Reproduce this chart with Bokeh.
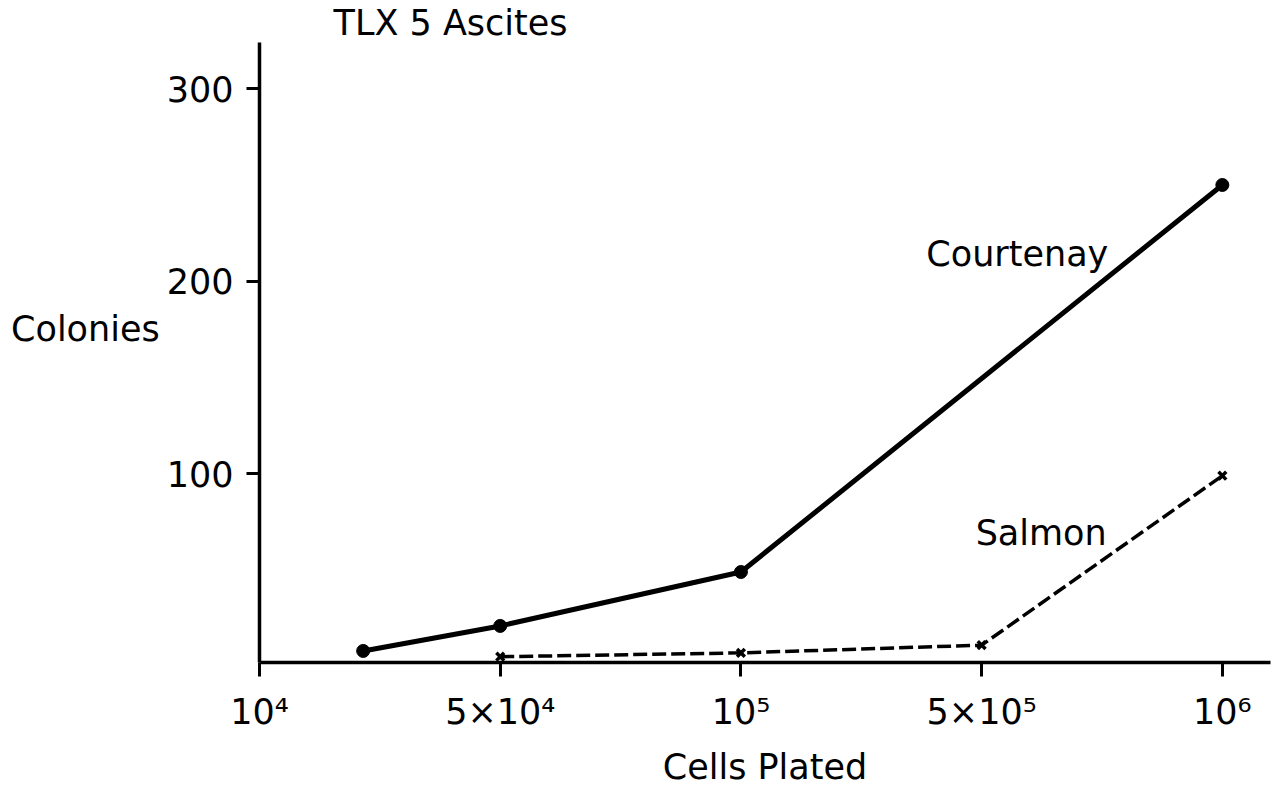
import numpy as np
from bokeh.plotting import figure
from bokeh.models import Range1d, FixedTicker, Label, ColumnDataSource
from bokeh.embed import file_html
from bokeh.resources import INLINE

# Tick values on the cells-plated axis and their labels
tick_cells = [1e4, 5e4, 1e5, 5e5, 1e6]
tick_labels = ["10⁴", "5×10⁴", "10⁵", "5×10⁵", "10⁶"]

# Colony counts for the two assay methods
courtenay_cells = [2e4, 5e4, 1e5, 1e6]
courtenay_colonies = [8, 21, 49, 250]

salmon_cells = [5e4, 1e5, 5e5, 1e6]
salmon_colonies = [5, 7, 11, 99]

y_ticks = [100, 200, 300]

FONT = "DejaVu Sans"


def axis_pos(cells):
    # each tick sits an equal distance apart; the scale is logarithmic between ticks
    return np.interp(np.log10(cells), np.log10(tick_cells), np.arange(len(tick_cells)))


court = ColumnDataSource(dict(x=axis_pos(courtenay_cells), y=courtenay_colonies))
salm = ColumnDataSource(dict(x=axis_pos(salmon_cells), y=salmon_colonies))

p = figure(width=1276, height=789, output_backend="svg", toolbar_location=None,
           x_range=Range1d(0, 4.2), y_range=Range1d(2, 324),
           min_border_left=259, min_border_right=6, min_border_top=42, min_border_bottom=126,
           title="TLX 5 Ascites")
p.outline_line_color = None
p.xgrid.visible = False
p.ygrid.visible = False
p.background_fill_color = "white"
p.border_fill_color = "white"

p.title.text_font = FONT
p.title.text_font_size = "35px"
p.title.text_font_style = "normal"
p.title.text_color = "black"
p.title.align = "left"
p.title.offset = 74
p.title.standoff = 0

# Courtenay: solid line with filled dots
p.line("x", "y", source=court, line_color="black", line_width=5)
p.scatter("x", "y", source=court, marker="circle", size=13, fill_color="black", line_color="black")

# Salmon: dashed line with small crosses
p.line("x", "y", source=salm, line_color="black", line_width=3.5, line_dash="14 5")
p.scatter("x", "y", source=salm, marker="x", size=11, line_color="black", line_width=3.5)

# axes
for ax in (p.xaxis[0], p.yaxis[0]):
    ax.axis_line_width = 3.5
    ax.axis_line_color = "black"
    ax.major_tick_line_width = 3
    ax.major_tick_line_color = "black"
    ax.major_tick_in = 0
    ax.minor_tick_line_color = None
    ax.major_label_text_font = FONT
    ax.major_label_text_font_size = "35px"
    ax.major_label_text_color = "black"
    ax.axis_label_text_font = FONT
    ax.axis_label_text_font_size = "35px"
    ax.axis_label_text_font_style = "normal"
    ax.axis_label_text_color = "black"

p.xaxis.ticker = FixedTicker(ticks=list(range(len(tick_cells))))
p.xaxis.major_label_overrides = {i: t for i, t in enumerate(tick_labels)}
p.xaxis.major_tick_out = 14
p.xaxis.major_label_standoff = 15
p.xaxis.axis_label = "Cells Plated"
p.xaxis.axis_label_standoff = 12

p.yaxis.ticker = FixedTicker(ticks=y_ticks)
p.yaxis.major_tick_out = 13
p.yaxis.major_label_standoff = 13
p.yaxis.axis_label = "Colonies\n"
p.yaxis.axis_label_orientation = "horizontal"
p.yaxis.axis_label_standoff = 4

# series names beside their lines
p.add_layout(Label(x=2.77, y=214, text="Courtenay", text_font=FONT, text_color="black",
                   text_font_size="35px", text_baseline="alphabetic"))
p.add_layout(Label(x=2.975, y=69, text="Salmon", text_font=FONT, text_color="black",
                   text_font_size="35px", text_baseline="alphabetic"))

open("out.html", "w").write(file_html(p, INLINE))
